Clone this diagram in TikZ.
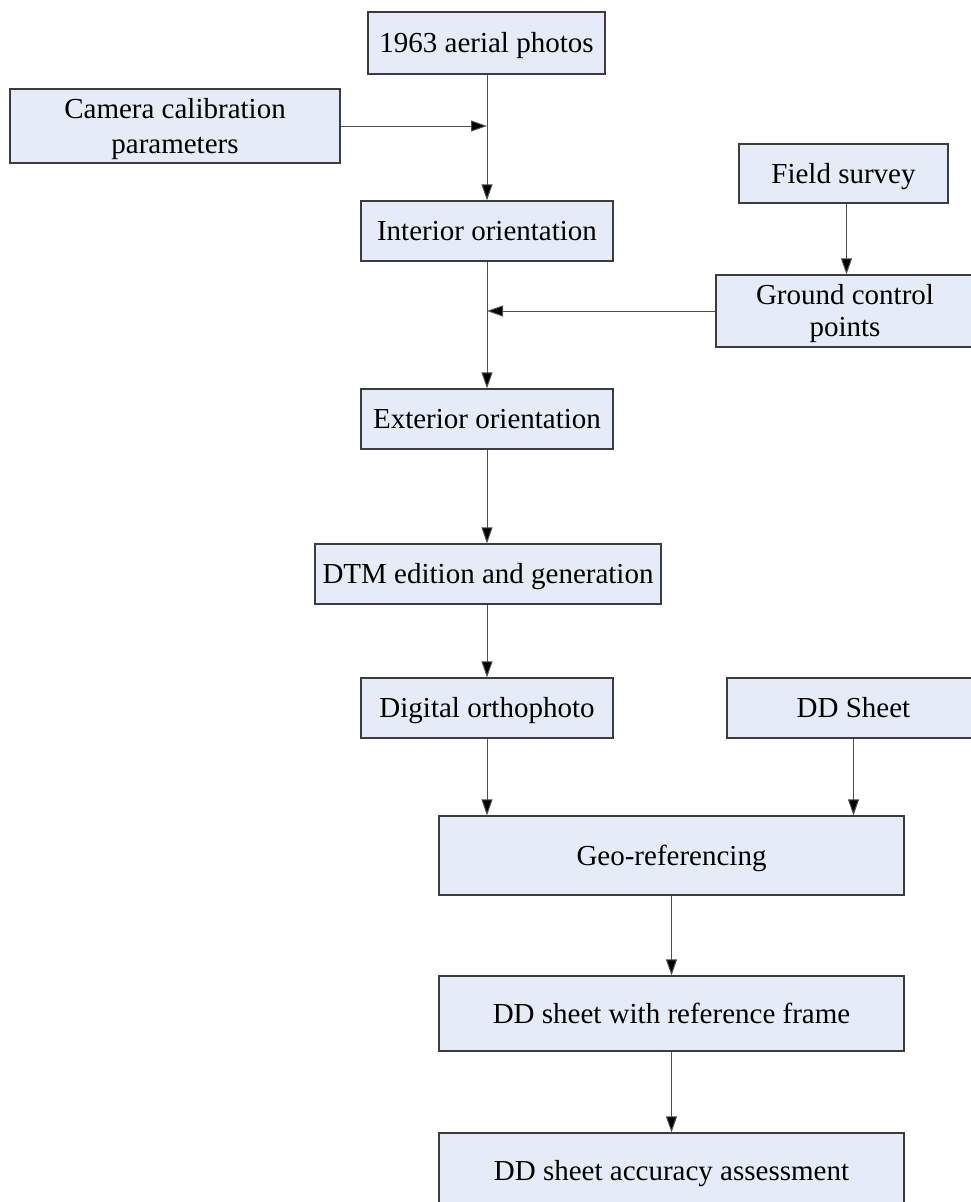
\documentclass[tikz,border=0pt]{standalone}
\usepackage{fontspec}
\setmainfont{Liberation Serif}
\usetikzlibrary{arrows.meta}
\definecolor{boxfill}{RGB}{230,236,247}
\definecolor{boxline}{RGB}{60,60,60}
\definecolor{lineclr}{RGB}{80,80,80}
\tikzset{
  box/.style={draw=boxline, fill=boxfill, line width=1.2pt, inner sep=0pt,
    font=\fontsize{29}{34}\selectfont, text height=19pt, text depth=0pt},
  conn/.style={draw=lineclr, line width=1pt, -{Triangle[length=16pt,width=11pt,fill=black]}}
}
\begin{document}
\begin{tikzpicture}[x=1pt,y=-1pt]
\useasboundingbox (0,0) rectangle (971,1202);
\clip (0,0) rectangle (971,1202);
\node[box, minimum width=237, minimum height=62] (photos) at (486.5,43) {1963 aerial photos};
\node[box, minimum width=330, minimum height=74, align=center, font=\fontsize{29}{35}\selectfont, text height=54pt] (camera) at (175,126) {Camera calibration\\parameters};
\node[box, minimum width=252, minimum height=60] (interior) at (487,231) {Interior orientation};
\node[box, minimum width=209, minimum height=59] (field) at (843.5,173.5) {Field survey};
\node[box, minimum width=258, minimum height=72, align=center, font=\fontsize{29}{31.5}\selectfont, text height=50.5pt] (gcp) at (845,311) {Ground control\\points};
\node[box, minimum width=252, minimum height=60] (exterior) at (487,419) {Exterior orientation};
\node[box, minimum width=346, minimum height=60] (dtm) at (488,574) {DTM edition and generation};
\node[box, minimum width=252, minimum height=60] (ortho) at (487,708) {Digital orthophoto};
\node[box, minimum width=253, minimum height=60] (ddsheet) at (853.5,708) {DD Sheet};
\node[box, minimum width=465, minimum height=79] (geo) at (671.5,855.5) {Geo-referencing};
\node[box, minimum width=465, minimum height=75] (ref) at (671.5,1013.5) {DD sheet with reference frame};
\node[box, minimum width=465, minimum height=75] (acc) at (671.5,1170.5) {DD sheet accuracy assessment};

\draw[conn] ([xshift=0.5pt]photos.south) -- (interior.north);
\draw[conn] (camera.east) -- (camera.east -| interior.north);
\draw[conn] ([xshift=3pt]field.south) -- ([xshift=3pt]field.south |- gcp.north);
\draw[conn] (gcp.west) -- (gcp.west -| interior.south);
\draw[conn] (interior.south) -- (exterior.north);
\draw[conn] (exterior.south) -- (exterior.south |- dtm.north);
\draw[conn] (exterior.south |- dtm.south) -- (ortho.north);
\draw[conn] (ortho.south) -- (ortho.south |- geo.north);
\draw[conn] (ddsheet.south) -- (ddsheet.south |- geo.north);
\draw[conn] (geo.south) -- (ref.north);
\draw[conn] (ref.south) -- (acc.north);
\end{tikzpicture}
\end{document}
